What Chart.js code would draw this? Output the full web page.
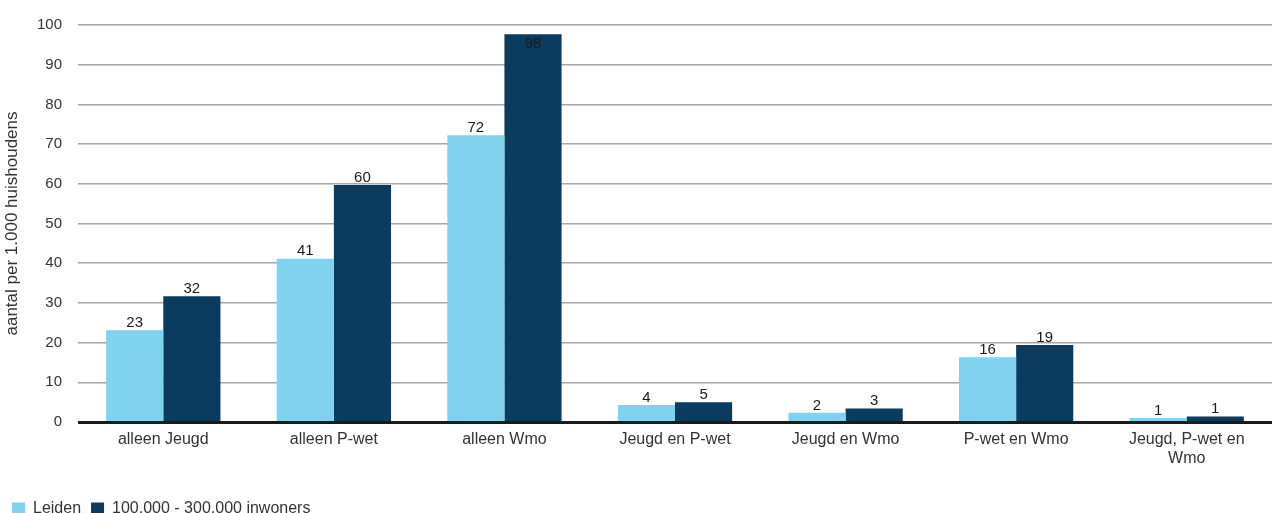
<!DOCTYPE html>
<html>
<head>
<meta charset="utf-8">
<script src="https://cdn.jsdelivr.net/npm/chart.js@4.4.1/dist/chart.umd.min.js"></script>
<style>
html,body{margin:0;padding:0;background:#fff;}
#wrap{width:1272px;height:513px;position:relative;}
</style>
</head>
<body>
<div id="wrap"><canvas id="c" width="1272" height="513"></canvas></div>
<script>
const categories = ["alleen Jeugd","alleen P-wet","alleen Wmo","Jeugd en P-wet","Jeugd en Wmo","P-wet en Wmo",["Jeugd, P-wet en","Wmo"]];
const leiden = [23.1, 41.1, 72.2, 4.3, 2.3, 16.3, 1.0];
const inwoners = [31.7, 59.7, 97.7, 5.0, 3.4, 19.4, 1.4];
const seriesNames = ["Leiden","100.000 - 300.000 inwoners"];
const yTicks = [0,10,20,30,40,50,60,70,80,90,100];

const FONT = "'Liberation Sans', Arial, sans-serif";

const labelPlugin = {
  id: 'barLabels',
  afterDatasetsDraw(chart) {
    const ctx = chart.ctx;
    ctx.save();
    ctx.font = "15px " + FONT;
    ctx.fillStyle = "#1a1a1a";
    ctx.textAlign = "center";
    chart.data.datasets.forEach((ds, di) => {
      const meta = chart.getDatasetMeta(di);
      meta.data.forEach((bar, i) => {
        const txt = String(Math.round(ds.data[i]));
        if (bar.y - 18 < chart.chartArea.top) {
          ctx.textBaseline = "top";
          ctx.fillText(txt, bar.x, bar.y + 2);
        } else {
          ctx.textBaseline = "bottom";
          ctx.fillText(txt, bar.x, bar.y);
        }
      });
    });
    ctx.restore();
  }
};

const baselinePlugin = {
  id: 'baseline',
  afterDatasetsDraw(chart) {
    const ctx = chart.ctx;
    const y = chart.scales.y.getPixelForValue(0);
    ctx.save();
    ctx.strokeStyle = "#1a1a1a";
    ctx.lineWidth = 3;
    ctx.beginPath();
    ctx.moveTo(chart.chartArea.left, y + 0.5);
    ctx.lineTo(chart.chartArea.right, y + 0.5);
    ctx.stroke();
    ctx.restore();
  }
};

new Chart(document.getElementById('c'), {
  type: 'bar',
  data: {
    labels: categories,
    datasets: [
      {label: seriesNames[0], data: leiden, backgroundColor: '#7FD3EE', borderWidth: 0},
      {label: seriesNames[1], data: inwoners, backgroundColor: '#0B3B5F', borderWidth: 0}
    ]
  },
  options: {
    responsive: false,
    animation: false,
    devicePixelRatio: 1,
    layout: {padding: {left: 2, right: 0, top: 12, bottom: -14}},
    datasets: {bar: {categoryPercentage: 0.67, barPercentage: 1.0}},
    plugins: {
      legend: {
        position: 'bottom',
        align: 'start',
        labels: {
          font: {family: FONT, size: 16},
          color: '#333',
          boxWidth: 13,
          boxHeight: 13,
          padding: 10
        }
      },
      tooltip: {enabled: false}
    },
    scales: {
      x: {
        grid: {display: false, drawTicks: false},
        border: {display: false},
        ticks: {font: {family: FONT, size: 16}, color: '#333', maxRotation: 0, autoSkip: false, padding: 8},
        afterFit(axis) { axis.height = 69; }
      },
      y: {
        min: 0, max: 100,
        afterBuildTicks(axis) { axis.ticks = yTicks.map(v => ({value: v})); },
        grid: {color: '#a6a6a6', lineWidth: 1.5, drawTicks: false},
        border: {display: false},
        ticks: {font: {family: FONT, size: 15}, color: '#333', padding: 16},
        title: {display: true, text: 'aantal per 1.000 huishoudens', font: {family: FONT, size: 17}, color: '#333', padding: {top: 0, bottom: 4}},
        afterFit(axis) { axis.width = 76; }
      }
    }
  },
  plugins: [labelPlugin, baselinePlugin]
});
</script>
</body>
</html>
